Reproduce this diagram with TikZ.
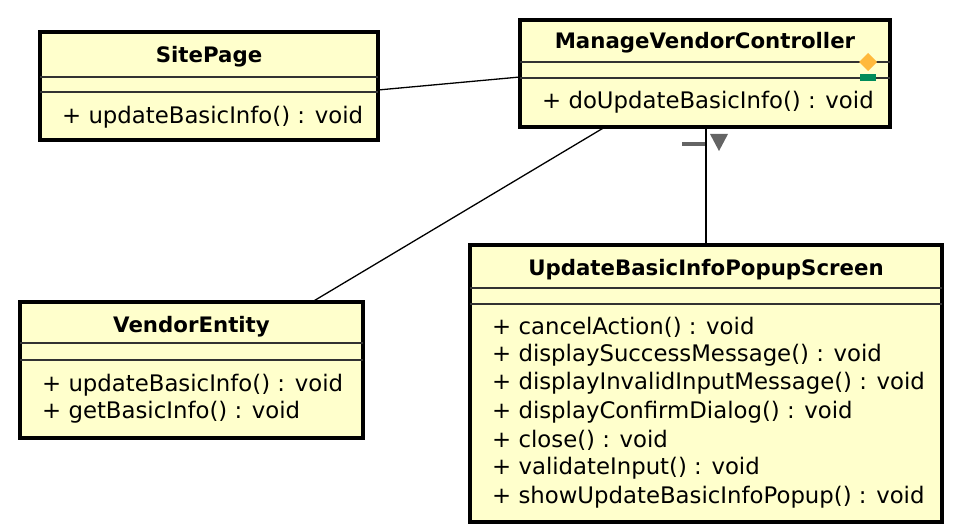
\documentclass[tikz,border=0pt]{standalone}
\usepackage{fontspec}
\setmainfont{DejaVu Sans}
\definecolor{boxfill}{RGB}{255,255,204}
\definecolor{sepline}{RGB}{50,50,50}
\definecolor{markgrey}{RGB}{100,100,100}
\definecolor{diamondorange}{RGB}{255,185,60}
\definecolor{rectgreen}{RGB}{0,140,90}
\tikzset{
  umlbox/.style={draw, line width=3.5pt, fill=boxfill, rectangle, anchor=north west, inner sep=0pt, outer sep=0pt},
  sepl/.style={line width=1.3pt, draw=sepline},
  cname/.style={font=\bfseries\fontsize{21.3}{25}\selectfont, inner sep=0pt, anchor=base},
  meth/.style={font=\fontsize{22.8}{27}\selectfont, inner sep=0pt, anchor=west},
  assoc/.style={line width=1.3pt},
}
\begin{document}
\begin{tikzpicture}[x=1pt,y=-1pt]
\useasboundingbox (0,0) rectangle (966,532);
\node[umlbox, minimum width=338pt, minimum height=108pt] (sp) at (40,32) {};
\node[umlbox, minimum width=370pt, minimum height=107pt] (mvc) at (520,20) {};
\node[umlbox, minimum width=343pt, minimum height=136pt] (ve) at (20,302) {};
\node[umlbox, minimum width=472pt, minimum height=277pt] (ub) at (470,245) {};
\draw[assoc] ([yshift=-4pt]sp.east) -- ([yshift=-3.5pt]mvc.west);
\draw[assoc] ([xshift=-100pt]mvc.south) -- ([xshift=120.5pt]ve.north);
\draw[assoc] ([xshift=1pt]mvc.south) -- (ub.north);
% SitePage
\draw[sepl] (sp.west |- 0,77) -- (sp.east |- 0,77);
\draw[sepl] (sp.west |- 0,92) -- (sp.east |- 0,92);
\node[cname] (spn) at (209,63) {SitePage};
\node[meth] (spm1) at (62,117) {+ updateBasicInfo() : void};
% ManageVendorController
\draw[sepl] (mvc.west |- 0,62) -- (mvc.east |- 0,62);
\draw[sepl] (mvc.west |- 0,78) -- (mvc.east |- 0,78);
\node[cname] (mvcn) at (705,49) {ManageVendorController};
\node[meth] (mvcm1) at (542,102) {+ doUpdateBasicInfo() : void};
\fill[diamondorange] (868,53) -- (877,62) -- (868,71) -- (859,62) -- cycle;
\fill[rectgreen] (860,74) rectangle (876,81);
% VendorEntity
\draw[sepl] (ve.west |- 0,343) -- (ve.east |- 0,343);
\draw[sepl] (ve.west |- 0,360) -- (ve.east |- 0,360);
\node[cname] (ven) at (191.5,332) {VendorEntity};
\node[meth] (vem1) at (42,385) {+ updateBasicInfo() : void};
\node[meth] (vem2) at (42,412) {+ getBasicInfo() : void};
% UpdateBasicInfoPopupScreen
\draw[sepl] (ub.west |- 0,288) -- (ub.east |- 0,288);
\draw[sepl] (ub.west |- 0,304) -- (ub.east |- 0,304);
\node[cname] (ubn) at (706,275.5) {UpdateBasicInfoPopupScreen};
\node[meth] (ubm1) at (492,327) {+ cancelAction() : void};
\node[meth] (ubm2) at (492,355.3) {+ displaySuccessMessage() : void};
\node[meth] (ubm3) at (492,383.6) {+ displayInvalidInputMessage() : void};
\node[meth] (ubm4) at (492,411.9) {+ displayConfirmDialog() : void};
\node[meth] (ubm5) at (492,440.2) {+ close() : void};
\node[meth] (ubm6) at (492,468.5) {+ validateInput() : void};
\node[meth] (ubm7) at (492,496.8) {+ showUpdateBasicInfoPopup() : void};
% marks on the connector
\draw[markgrey, line width=4pt] (682,144) -- (705,144);
\fill[markgrey] (710,134) -- (728,134) -- (719,151) -- cycle;
\end{tikzpicture}
\end{document}
